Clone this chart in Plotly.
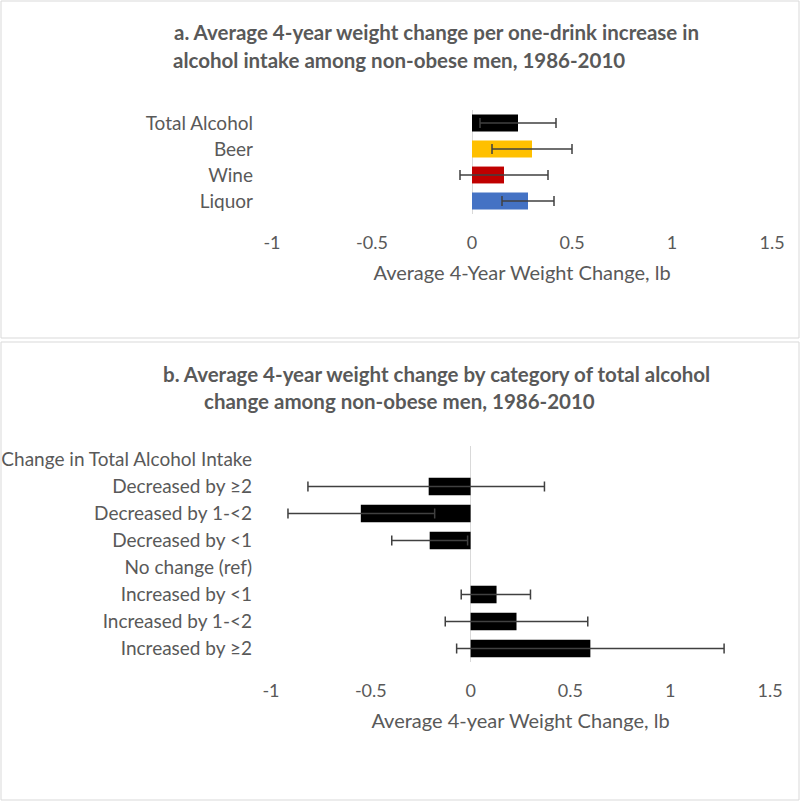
import plotly.graph_objects as go

# ---- data ----
cats_a = ["Total Alcohol", "Beer", "Wine", "Liquor"]
vals_a = [0.23, 0.30, 0.16, 0.28]
lo_a = [0.04, 0.10, -0.06, 0.15]
hi_a = [0.42, 0.50, 0.38, 0.41]
colors_a = ["#000000", "#FFC000", "#C00000", "#4472C4"]

cats_b = ["Change in Total Alcohol Intake", "Decreased by ≥2", "Decreased by 1-<2",
          "Decreased by <1", "No change (ref)", "Increased by <1",
          "Increased by 1-<2", "Increased by ≥2"]
vals_b = [None, -0.21, -0.55, -0.205, None, 0.13, 0.23, 0.60]
lo_b = [None, -0.815, -0.915, -0.395, None, -0.047, -0.127, -0.07]
hi_b = [None, 0.37, -0.18, -0.015, None, 0.30, 0.587, 1.27]

tick_vals = [-1, -0.5, 0, 0.5, 1, 1.5]
tick_text = ["-1", "-0.5", "0", "0.5", "1", "1.5"]

title_a = ["a. Average 4-year weight change per one-drink increase in",
           "alcohol intake among non-obese men, 1986-2010"]
title_b = ["b. Average 4-year weight change by category of total alcohol",
           "change among non-obese men, 1986-2010"]
xtitle_a = "Average 4-Year Weight Change, lb"
xtitle_b = "Average 4-year Weight Change, lb"


def plus(v, h):
    return [None if a is None else b - a for a, b in zip(v, h)]


def minus(v, l):
    return [None if a is None else a - b for a, b in zip(v, l)]


FONT = "Lato"
GRAY = "#595959"
ERR = "#404040"
W, H = 800, 802

fig = go.Figure()

fig.add_trace(go.Bar(
    y=cats_a, x=vals_a, orientation="h",
    marker=dict(color=colors_a, line=dict(width=0)),
    error_x=dict(type="data", symmetric=False, array=plus(vals_a, hi_a),
                 arrayminus=minus(vals_a, lo_a), color=ERR,
                 thickness=1.5, width=5),
    xaxis="x", yaxis="y", showlegend=False,
))

fig.add_trace(go.Bar(
    y=cats_b, x=vals_b, orientation="h",
    marker=dict(color="#000000", line=dict(width=0)),
    error_x=dict(type="data", symmetric=False, array=plus(vals_b, hi_b),
                 arrayminus=minus(vals_b, lo_b), color=ERR,
                 thickness=1.5, width=5),
    xaxis="x2", yaxis="y2", showlegend=False,
))

axis_common = dict(
    range=[-1, 1.5], tickvals=tick_vals, ticktext=tick_text,
    showgrid=False, showline=False, ticks="", automargin=False,
    zeroline=True, zerolinecolor="#d9d9d9", zerolinewidth=1,
    tickfont=dict(family=FONT, size=18, color=GRAY),
    fixedrange=True, ticklabelstandoff=16,
)
yaxis_common = dict(
    autorange="reversed", showgrid=False, showline=False, zeroline=False,
    ticks="", ticklabelstandoff=18, automargin=False, fixedrange=True,
    tickfont=dict(family=FONT, size=19, color=GRAY),
)

fig.update_layout(
    width=W, height=H,
    margin=dict(l=0, r=0, t=0, b=0, autoexpand=False),
    paper_bgcolor="white", plot_bgcolor="white",
    bargap=0.35,
    xaxis=dict(domain=[272 / W, 772 / W], anchor="y",
               title=dict(text=xtitle_a, standoff=13,
                          font=dict(family=FONT, size=20, color=GRAY)),
               **axis_common),
    yaxis=dict(domain=[1 - 214 / H, 1 - 110 / H], anchor="x", **yaxis_common),
    xaxis2=dict(domain=[271 / W, 770 / W], anchor="y2",
                title=dict(text=xtitle_b, standoff=13,
                           font=dict(family=FONT, size=20, color=GRAY)),
                **axis_common),
    yaxis2=dict(domain=[1 - 662 / H, 1 - 446 / H], anchor="x2", **yaxis_common),
)

# panel borders
for y0, y1 in [(1, 338), (342, 800)]:
    fig.add_shape(type="rect", xref="paper", yref="paper",
                  x0=1 / W, x1=799 / W, y0=1 - y1 / H, y1=1 - y0 / H,
                  line=dict(color="#d9d9d9", width=1), fillcolor="rgba(0,0,0,0)")

# titles
for lines, ys in [(title_a, [32, 60]), (title_b, [374, 401])]:
    for text, cx, yy in zip(lines, [436, 399], ys):
        fig.add_annotation(text="<b>" + text + "</b>", xref="paper", yref="paper",
                           x=cx / W, y=1 - yy / H, xanchor="center", yanchor="middle",
                           showarrow=False,
                           font=dict(family=FONT, size=20.5, color=GRAY))

fig.write_html("out.html", config={"displayModeBar": False},
               post_script="document.body.style.margin='0';document.body.style.overflow='hidden';")
